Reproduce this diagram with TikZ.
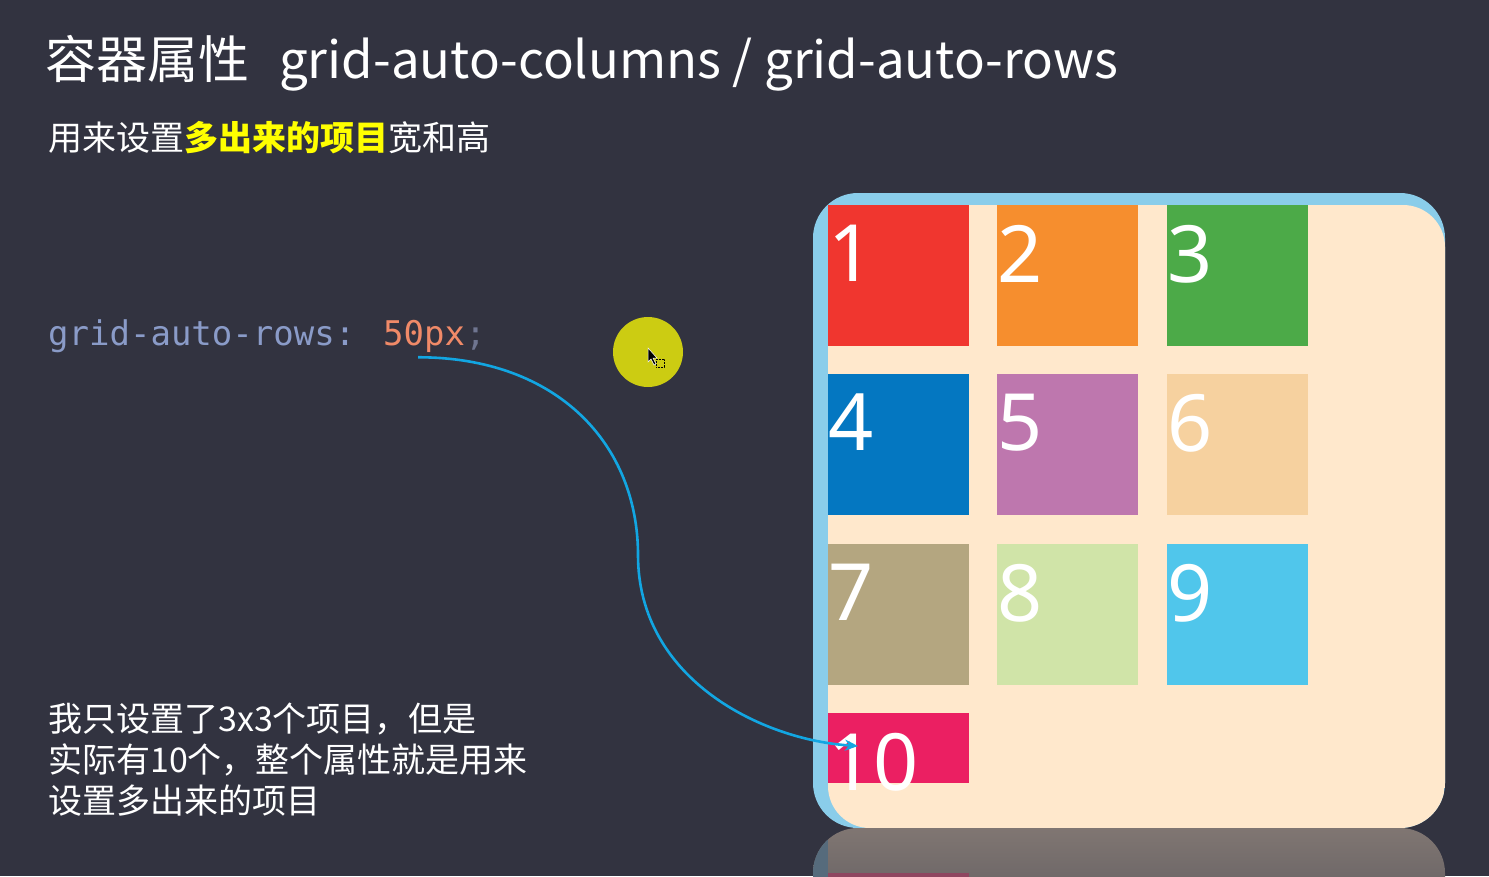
\documentclass[tikz,border=0pt]{standalone}
\usepackage{fontspec}
\setmainfont{Noto Sans CJK SC}
\newfontfamily\digitfont{Noto Sans}
\setmonofont{DejaVu Sans Mono}
\usetikzlibrary{arrows.meta}

\definecolor{bgc}{HTML}{323340}
\definecolor{boxblue}{HTML}{8ACDEA}
\definecolor{boxpeach}{HTML}{FFE8CC}
\definecolor{cA}{HTML}{F0362F}
\definecolor{cB}{HTML}{F68E2E}
\definecolor{cC}{HTML}{4CAA48}
\definecolor{cD}{HTML}{0477C1}
\definecolor{cE}{HTML}{BE77AE}
\definecolor{cF}{HTML}{F6D19F}
\definecolor{cG}{HTML}{B4A680}
\definecolor{cH}{HTML}{D0E4A8}
\definecolor{cI}{HTML}{50C6EB}
\definecolor{cJ}{HTML}{EB1F62}
\definecolor{propc}{HTML}{8A9BC8}
\definecolor{valc}{HTML}{F08A68}
\definecolor{semic}{HTML}{6F7590}
\definecolor{hilite}{HTML}{FFFF00}
\definecolor{flowc}{HTML}{12A6E2}
\definecolor{dotc}{HTML}{CCCC12}
\definecolor{reflTop}{HTML}{807672}
\definecolor{reflBot}{HTML}{5E5B5F}
\definecolor{reflBar}{HTML}{566B7C}

\begin{document}
\begin{tikzpicture}[x=1pt,y=-1pt,
	cell/.style={minimum width=141pt,minimum height=141pt,inner sep=0pt,outer sep=0pt,anchor=north west},
	num/.style={anchor=north west,inner xsep=0pt,inner ysep=20pt,text=white,font=\digitfont\fontsize{79}{79}\selectfont},
	code/.style={anchor=base west,inner sep=0pt,font=\ttfamily\fontsize{34}{34}\selectfont},
	flow/.style={draw=flowc,line width=2.6pt,-{Stealth[length=13pt,width=11pt]}}]
	      	\useasboundingbox (0,0) rectangle (1489,876);
	      	\fill[bgc] (0,0) rectangle (1489,876);
	      	% texts
	      	\node[anchor=base west,inner sep=0pt,text=white,font=\fontsize{51}{51}\selectfont] (title) at (45,78) {容器属性\hspace{30pt}grid-auto-columns / grid-auto-rows};
	      	\node[anchor=base west,inner sep=0pt,text=white,font=\fontsize{34}{34}\selectfont] (sub) at (48,150) {用来设置\textcolor{hilite}{\bfseries 多出来的项目}宽和高};
	      	\node[code,text=propc] (prop) at (48,345) {grid-auto-rows:};
	      	\node[code,text=valc] (val) at (383,345) {50px};
	      	\node[code,text=semic] (semi) at (val.base east) {;};
	      	\node[anchor=base west,inner sep=0pt,text=white,align=left,font=\fontsize{34}{41}\selectfont] (note) at (48,813) {我只设置了3x3个项目，但是\\实际有10个，整个属性就是用来\\设置多出来的项目};
	      	% pointer
	      	\fill[dotc] (648,352) circle (35);
	      	\draw[fill=black,draw=white,line width=0.5pt] (648,348) -- (648,362) -- (651,359) -- (654,365) -- (656,364) -- (653,358) -- (657,358) -- cycle;
	      	\draw[black,densely dotted,line width=0.6pt] (656,359) rectangle (664,367);
	      	% container
	      	\fill[boxblue,rounded corners=45pt] (813,193) rectangle (1445,828);
	      	\begin{scope}
	      	\clip[rounded corners=45pt] (813,193) rectangle (1445,828);
	      	\fill[boxpeach,rounded corners=42pt] (828,205) rectangle (1445,828);
	      	\end{scope}
	      	% reflection
	      	\begin{scope}
	      	\clip (800,828) rectangle (1460,876);
	      	\shade[top color=reflTop,bottom color=reflBot,rounded corners=45pt] (813,828) rectangle (1445,930);
	      	\clip[rounded corners=45pt] (813,828) rectangle (1445,930);
	      	\fill[reflBar] (813,828) rectangle (828,930);
	      	\fill[cJ!35!reflBot] (828,873) rectangle (969,930);
	      	\end{scope}
	      	% items
	      	\node[cell,fill=cA,label={[num]north west:1}] (I1) at (828,205) {};
	      	\node[cell,fill=cB,label={[num]north west:2}] (I2) at (997,205) {};
	      	\node[cell,fill=cC,label={[num]north west:3}] (I3) at (1167,205) {};
	      	\node[cell,fill=cD,label={[num]north west:4}] (I4) at (828,374) {};
	      	\node[cell,fill=cE,label={[num]north west:5}] (I5) at (997,374) {};
	      	\node[cell,fill=cF,label={[num]north west:6}] (I6) at (1167,374) {};
	      	\node[cell,fill=cG,label={[num]north west:7}] (I7) at (828,544) {};
	      	\node[cell,fill=cH,label={[num]north west:8}] (I8) at (997,544) {};
	      	\node[cell,fill=cI,label={[num]north west:9}] (I9) at (1167,544) {};
	      	\node[cell,fill=cJ,minimum height=70pt,label={[num]north west:10}] (I10) at (828,713) {};
	      	% arrow
	      	\coordinate (bend) at (638,555);
	      	\draw[flow] ([xshift=-6pt,yshift=-5pt]val.south) .. controls +(140,0) and +(0,-110) .. (bend) .. controls +(0,125) and +(-95,-6) .. ([xshift=30pt,yshift=2pt]I10.west);
	      \end{tikzpicture}
\end{document}
